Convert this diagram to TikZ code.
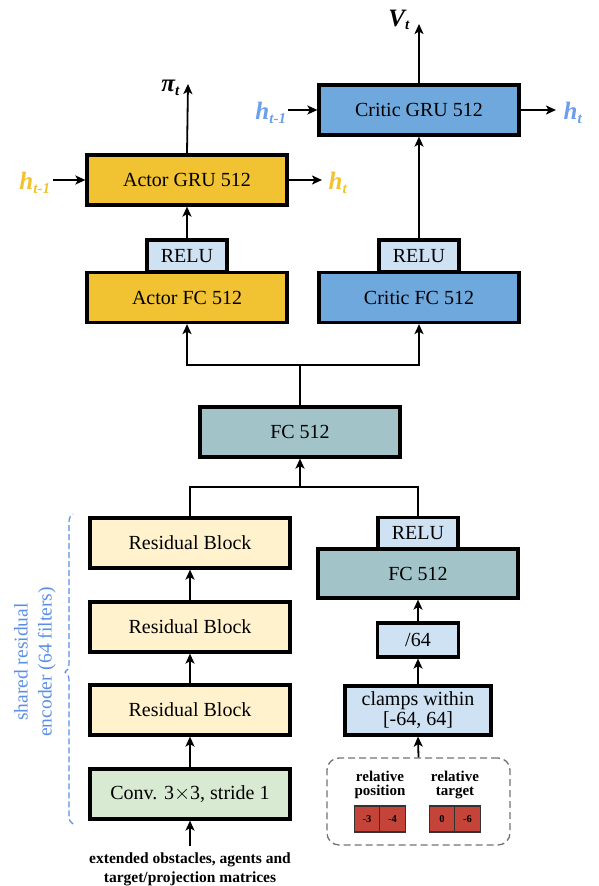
\documentclass[tikz,border=0pt]{standalone}
\usepackage{fontspec}
\setmainfont{Liberation Serif}
\usetikzlibrary{arrows.meta,decorations.pathreplacing,calc}
\definecolor{actor}{HTML}{F1C232}
\definecolor{critic}{HTML}{6FA8DC}
\definecolor{relu}{HTML}{CFE2F3}
\definecolor{teal}{HTML}{A2C4C9}
\definecolor{res}{HTML}{FFF2CC}
\definecolor{convc}{HTML}{D9EAD3}
\definecolor{cell}{HTML}{C5443A}
\definecolor{hblue}{HTML}{6D9EEB}
\definecolor{brc}{HTML}{5B8FE6}
\begin{document}
\begin{tikzpicture}[x=1pt,y=-1pt,
  blk/.style={draw, line width=3.2pt, minimum width=200pt, minimum height=50pt, inner sep=0pt,
    font=\fontsize{20}{22}\selectfont, align=center},
  small/.style={blk, minimum width=80pt, minimum height=32pt, fill=relu},
  conn/.style={line width=1.8pt},
  arr/.style={conn, -{Stealth[length=10pt,width=9pt,inset=2.5pt]}},
  lbl/.style={font=\fontsize{25}{27}\selectfont\bfseries\itshape, inner sep=0pt},
  cellbox/.style={draw=black!80, line width=1.2pt, fill=cell, minimum width=25.5pt, minimum height=26pt,
    inner sep=0pt, font=\fontsize{10.5}{11}\selectfont\bfseries},
  smalllbl/.style={font=\fontsize{15}{15}\selectfont\bfseries, align=center, inner sep=0pt}
]
\useasboundingbox (0,0) rectangle (598,886);

% top boxes
\node[blk, fill=critic] (cgru) at (419,110) {Critic GRU 512};
\node[blk, fill=actor] (agru) at (187,180) {Actor GRU 512};
\node[small] (arelu) at (187,256) {RELU};
\node[blk, fill=actor] (afc) at (187,297.5) {Actor FC 512};
\node[small] (crelu) at (419,256) {RELU};
\node[blk, fill=critic] (cfc) at (419,297.5) {Critic FC 512};

% middle
\node[blk, fill=teal] (fc) at (300,432) {FC 512};

% left column
\node[blk, fill=res] (rb1) at (190,543) {Residual Block};
\node[blk, fill=res] (rb2) at (190,627) {Residual Block};
\node[blk, fill=res] (rb3) at (190,710) {Residual Block};
\node[blk, fill=convc] (conv) at (190,794) {Conv. 3$\times$3, stride 1};

% right column
\node[small] (relu2) at (418,533.5) {RELU};
\node[blk, fill=teal, minimum height=49pt] (fc2) at (418,573.5) {FC 512};
\node[small, minimum width=81pt, minimum height=34pt] (div) at (418,640) {/64};
\node[blk, fill=relu, minimum width=146pt, minimum height=49pt] (clamp) at (418,710.5) {clamps within\\[-2pt][-64, 64]};

% dashed input box
\node[draw=black!55, dashed, dash pattern=on 7pt off 4pt, line width=1.3pt, rounded corners=12pt,
  minimum width=183pt, minimum height=87pt, inner sep=0pt] (dbox) at (418.5,801.5) {};
\node[smalllbl] (rp) at (380,785) {relative\\[-1pt]position};
\node[smalllbl] (rt) at (455,785) {relative\\[-1pt]target};
\node[cellbox] (c1) at (367,819) {-3};
\node[cellbox] (c2) at (392.5,819) {-4};
\node[cellbox] (c3) at (442,819) {0};
\node[cellbox] (c4) at (467.5,819) {-6};

% bottom input text
\coordinate (in) at (190,846);
\node[font=\fontsize{15.5}{19}\selectfont\bfseries, align=center, inner sep=0pt] (intext) at (190,869)
  {extended obstacles, agents and\\target/projection matrices};

% outputs and hidden states
\coordinate (piend) at (188,84);
\coordinate (vend) at (419,24);
\node[lbl, anchor=east] (pilbl) at (180,88) {π\textsubscript{\fontsize{15}{15}\selectfont t}};
\node[lbl, anchor=east] (vlbl) at (410,20) {V\textsubscript{\fontsize{15}{15}\selectfont t}};
\node[lbl, text=actor] (ah1) at (35,183) {h\textsubscript{\fontsize{15}{15}\selectfont t-1}};
\node[lbl, text=actor] (ah2) at (338,183) {h\textsubscript{\fontsize{15}{15}\selectfont t}};
\node[lbl, text=hblue] (ch1) at (271,113) {h\textsubscript{\fontsize{15}{15}\selectfont t-1}};
\node[lbl, text=hblue] (ch2) at (573,113) {h\textsubscript{\fontsize{15}{15}\selectfont t}};
\coordinate (ah1e) at (53,180);
\coordinate (ah2e) at (322,180);
\coordinate (ch1e) at (288,110);
\coordinate (ch2e) at (556,110);

% connectors
\draw[arr] (agru.north) -- (piend);
\draw[arr] (cgru.north) -- (vend);
\draw[arr] (ah1e) -- (agru.west);
\draw[arr] (agru.east) -- (ah2e);
\draw[arr] (ch1e) -- (cgru.west);
\draw[arr] (cgru.east) -- (ch2e);
\draw[arr] (arelu.north) -- (agru.south);
\draw[arr] (crelu.north) -- (cgru.south);

\coordinate (j2) at (300,365);
\draw[conn] (fc.north) -- (j2);
\draw[arr] (j2) -| (afc.south);
\draw[arr] (j2) -| (cfc.south);

\coordinate (j1) at (300,487);
\draw[conn] (rb1.north) |- (j1) -| (relu2.north);
\draw[arr] (j1) -- (fc.south);

\draw[arr] (in) -- (conv.south);
\draw[arr] (conv.north) -- (rb3.south);
\draw[arr] (rb3.north) -- (rb2.south);
\draw[arr] (rb2.north) -- (rb1.south);
\draw[arr] (dbox.north) -- (clamp.south);
\draw[arr] (clamp.north) -- (div.south);
\draw[arr] (div.north) -- (fc2.south);

% brace
\coordinate (bt) at (73,514);
\coordinate (bb) at (73,824);
\draw[brc, line width=1.2pt, dashed, dash pattern=on 6pt off 3pt,
  decorate, decoration={brace, amplitude=8pt, aspect=0.49}] (bb) -- (bt);
\node[text=brc, rotate=90, font=\fontsize{19.5}{24}\selectfont, align=center, inner sep=0pt] (brtext) at (35,662)
  {shared residual\\encoder (64 filters)};
\end{tikzpicture}
\end{document}
